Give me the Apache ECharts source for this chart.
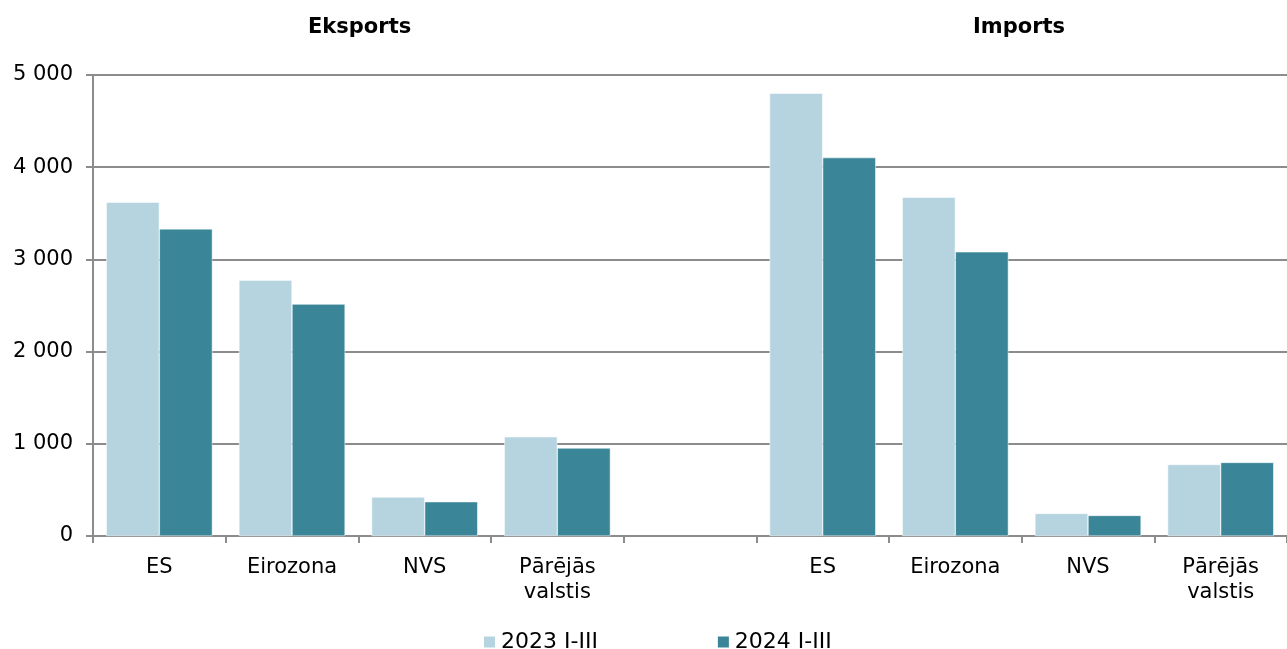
<!DOCTYPE html>
<html>
<head>
<meta charset="utf-8">
<script src="https://cdn.jsdelivr.net/npm/echarts@6/dist/echarts.min.js"></script>
<style>
  html, body { margin: 0; padding: 0; background: #fff; }
  #chart { width: 1287px; height: 649px; }
</style>
</head>
<body>
<div id="chart"></div>
<script>
// kategorijas (tukšā vidū atdala eksportu un importu)
var categories = ["ES", "Eirozona", "NVS", "Pārējās\nvalstis", "", "ES", "Eirozona", "NVS", "Pārējās\nvalstis"];
var seriesNames = ["2023 I-III", "2024 I-III"];
var values2023 = [3620, 2775, 423, 1076, null, 4802, 3674, 245, 776];
var values2024 = [3331, 2515, 372, 954, null, 4104, 3082, 223, 798];
var yTicks = [0, 1000, 2000, 3000, 4000, 5000];
var groupTitles = ["Eksports", "Imports"];

var fontName = "DejaVu Sans";
var lightColor = "#b6d4df";
var darkColor = "#3a8698";
var gridColor = "#8c8c8c";

var chart = echarts.init(document.getElementById("chart"));

var option = {
  animation: false,
  textStyle: { fontFamily: fontName, color: "#000" },
  graphic: [
    {
      type: "text",
      left: 361 - 53,
      top: 17,
      style: { text: groupTitles[0], font: "bold 21px " + fontName, fill: "#000" }
    },
    {
      type: "text",
      left: 1022 - 49,
      top: 17,
      style: { text: groupTitles[1], font: "bold 21px " + fontName, fill: "#000" }
    }
  ],
  legend: {
    top: 626,
    left: 477,
    itemWidth: 13,
    itemHeight: 13,
    itemGap: 118,
    icon: "rect",
    textStyle: { fontFamily: fontName, fontSize: 22, color: "#000" },
    data: seriesNames
  },
  grid: {
    left: 93,
    right: 0,
    top: 75,
    bottom: 113,
    containLabel: false
  },
  xAxis: {
    type: "category",
    data: categories,
    axisLine: { show: true, lineStyle: { color: gridColor, width: 2 } },
    axisTick: { show: true, length: 7, lineStyle: { color: gridColor, width: 2 } },
    axisLabel: {
      interval: 0,
      margin: 19,
      fontFamily: fontName,
      fontSize: 21,
      lineHeight: 25,
      color: "#000"
    },
    splitLine: { show: false }
  },
  yAxis: {
    type: "value",
    min: yTicks[0],
    max: yTicks[yTicks.length - 1],
    interval: 1000,
    axisLine: { show: true, lineStyle: { color: gridColor, width: 2 } },
    axisTick: { show: true, length: 7, lineStyle: { color: gridColor, width: 2 } },
    axisLabel: {
      margin: 20,
      fontFamily: fontName,
      fontSize: 21,
      color: "#000",
      formatter: function (v) {
        return String(v).replace(/\B(?=(\d{3})+(?!\d))/g, " ");
      }
    },
    splitLine: { show: true, lineStyle: { color: gridColor, width: 2 } }
  },
  series: [
    {
      name: seriesNames[0],
      type: "bar",
      data: values2023,
      barGap: "0%",
      barCategoryGap: "20%",
      itemStyle: { color: lightColor, borderColor: "#fff", borderWidth: 0.5 }
    },
    {
      name: seriesNames[1],
      type: "bar",
      data: values2024,
      itemStyle: { color: darkColor, borderColor: "#fff", borderWidth: 0.5 }
    }
  ]
};

chart.setOption(option);
</script>
</body>
</html>
